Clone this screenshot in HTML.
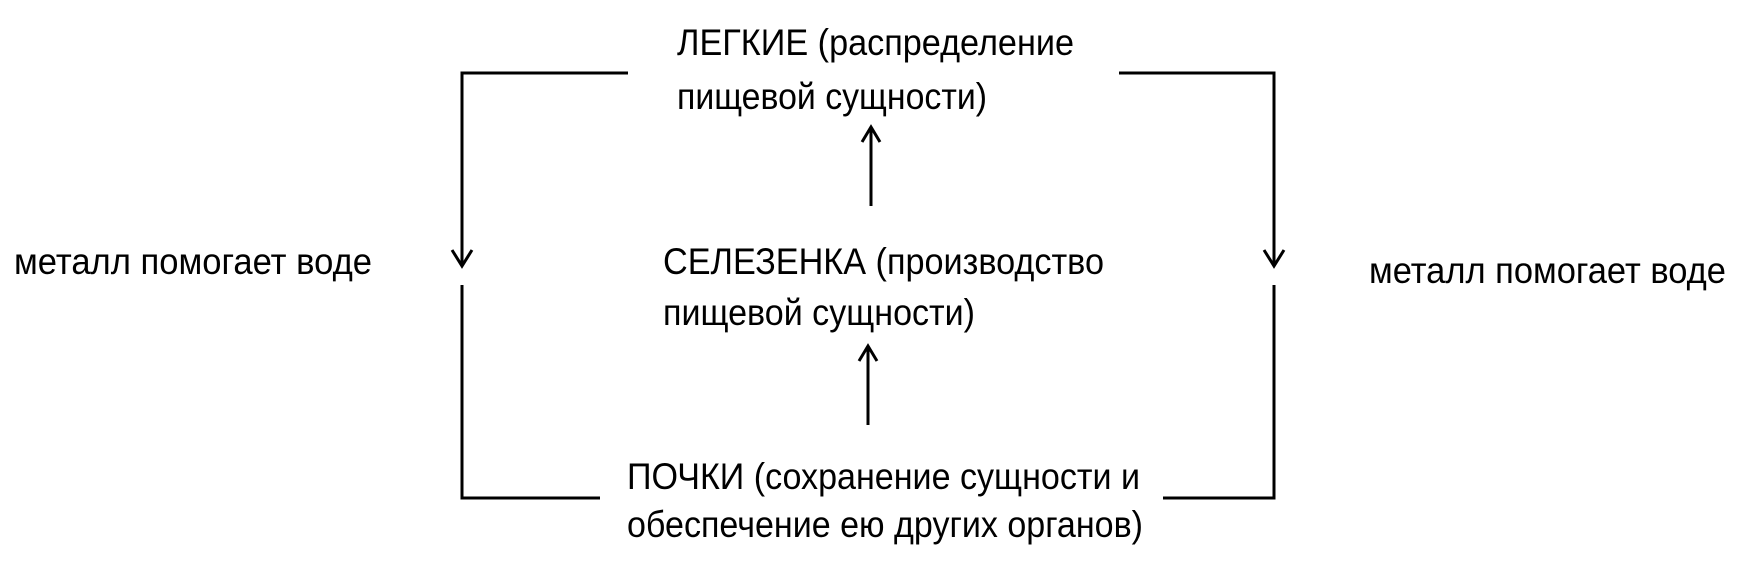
<!DOCTYPE html>
<html><head><meta charset="utf-8"><style>html,body{margin:0;padding:0;background:#fff;width:1740px;height:572px;overflow:hidden}</style></head>
<body>
<svg width="1740" height="572" viewBox="0 0 1740 572" xmlns="http://www.w3.org/2000/svg">
<g fill="none" stroke="#000" stroke-width="3">
<polyline points="628,73 462,73 462,265"/>
<polyline points="452,250 462,266 472,250"/>
<polyline points="462,285 462,498 600,498"/>
<polyline points="1119,73 1274,73 1274,265"/>
<polyline points="1264,250 1274,266 1284,250"/>
<polyline points="1274,285 1274,498 1163,498"/>
<line x1="871" y1="206" x2="871" y2="128"/>
<polyline points="862,142 871,127 880,142"/>
<line x1="868" y1="425" x2="868" y2="347"/>
<polyline points="859,361 868,346 877,361"/>
</g>
<g font-family="Liberation Sans, DejaVu Sans, sans-serif" font-size="37" fill="#000">
<text x="677" y="55" textLength="397" lengthAdjust="spacingAndGlyphs">ЛЕГКИЕ (распределение</text>
<text x="677" y="109" textLength="310" lengthAdjust="spacingAndGlyphs">пищевой сущности)</text>
<text x="663" y="274" textLength="441" lengthAdjust="spacingAndGlyphs">СЕЛЕЗЕНКА (производство</text>
<text x="663" y="325" textLength="312" lengthAdjust="spacingAndGlyphs">пищевой сущности)</text>
<text x="627" y="489" textLength="513" lengthAdjust="spacingAndGlyphs">ПОЧКИ (сохранение сущности и</text>
<text x="627" y="537" textLength="516" lengthAdjust="spacingAndGlyphs">обеспечение ею других органов)</text>
<text x="14" y="274" textLength="358" lengthAdjust="spacingAndGlyphs">металл помогает воде</text>
<text x="1369" y="283" textLength="357" lengthAdjust="spacingAndGlyphs">металл помогает воде</text>
</g>
</svg>
</body></html>
